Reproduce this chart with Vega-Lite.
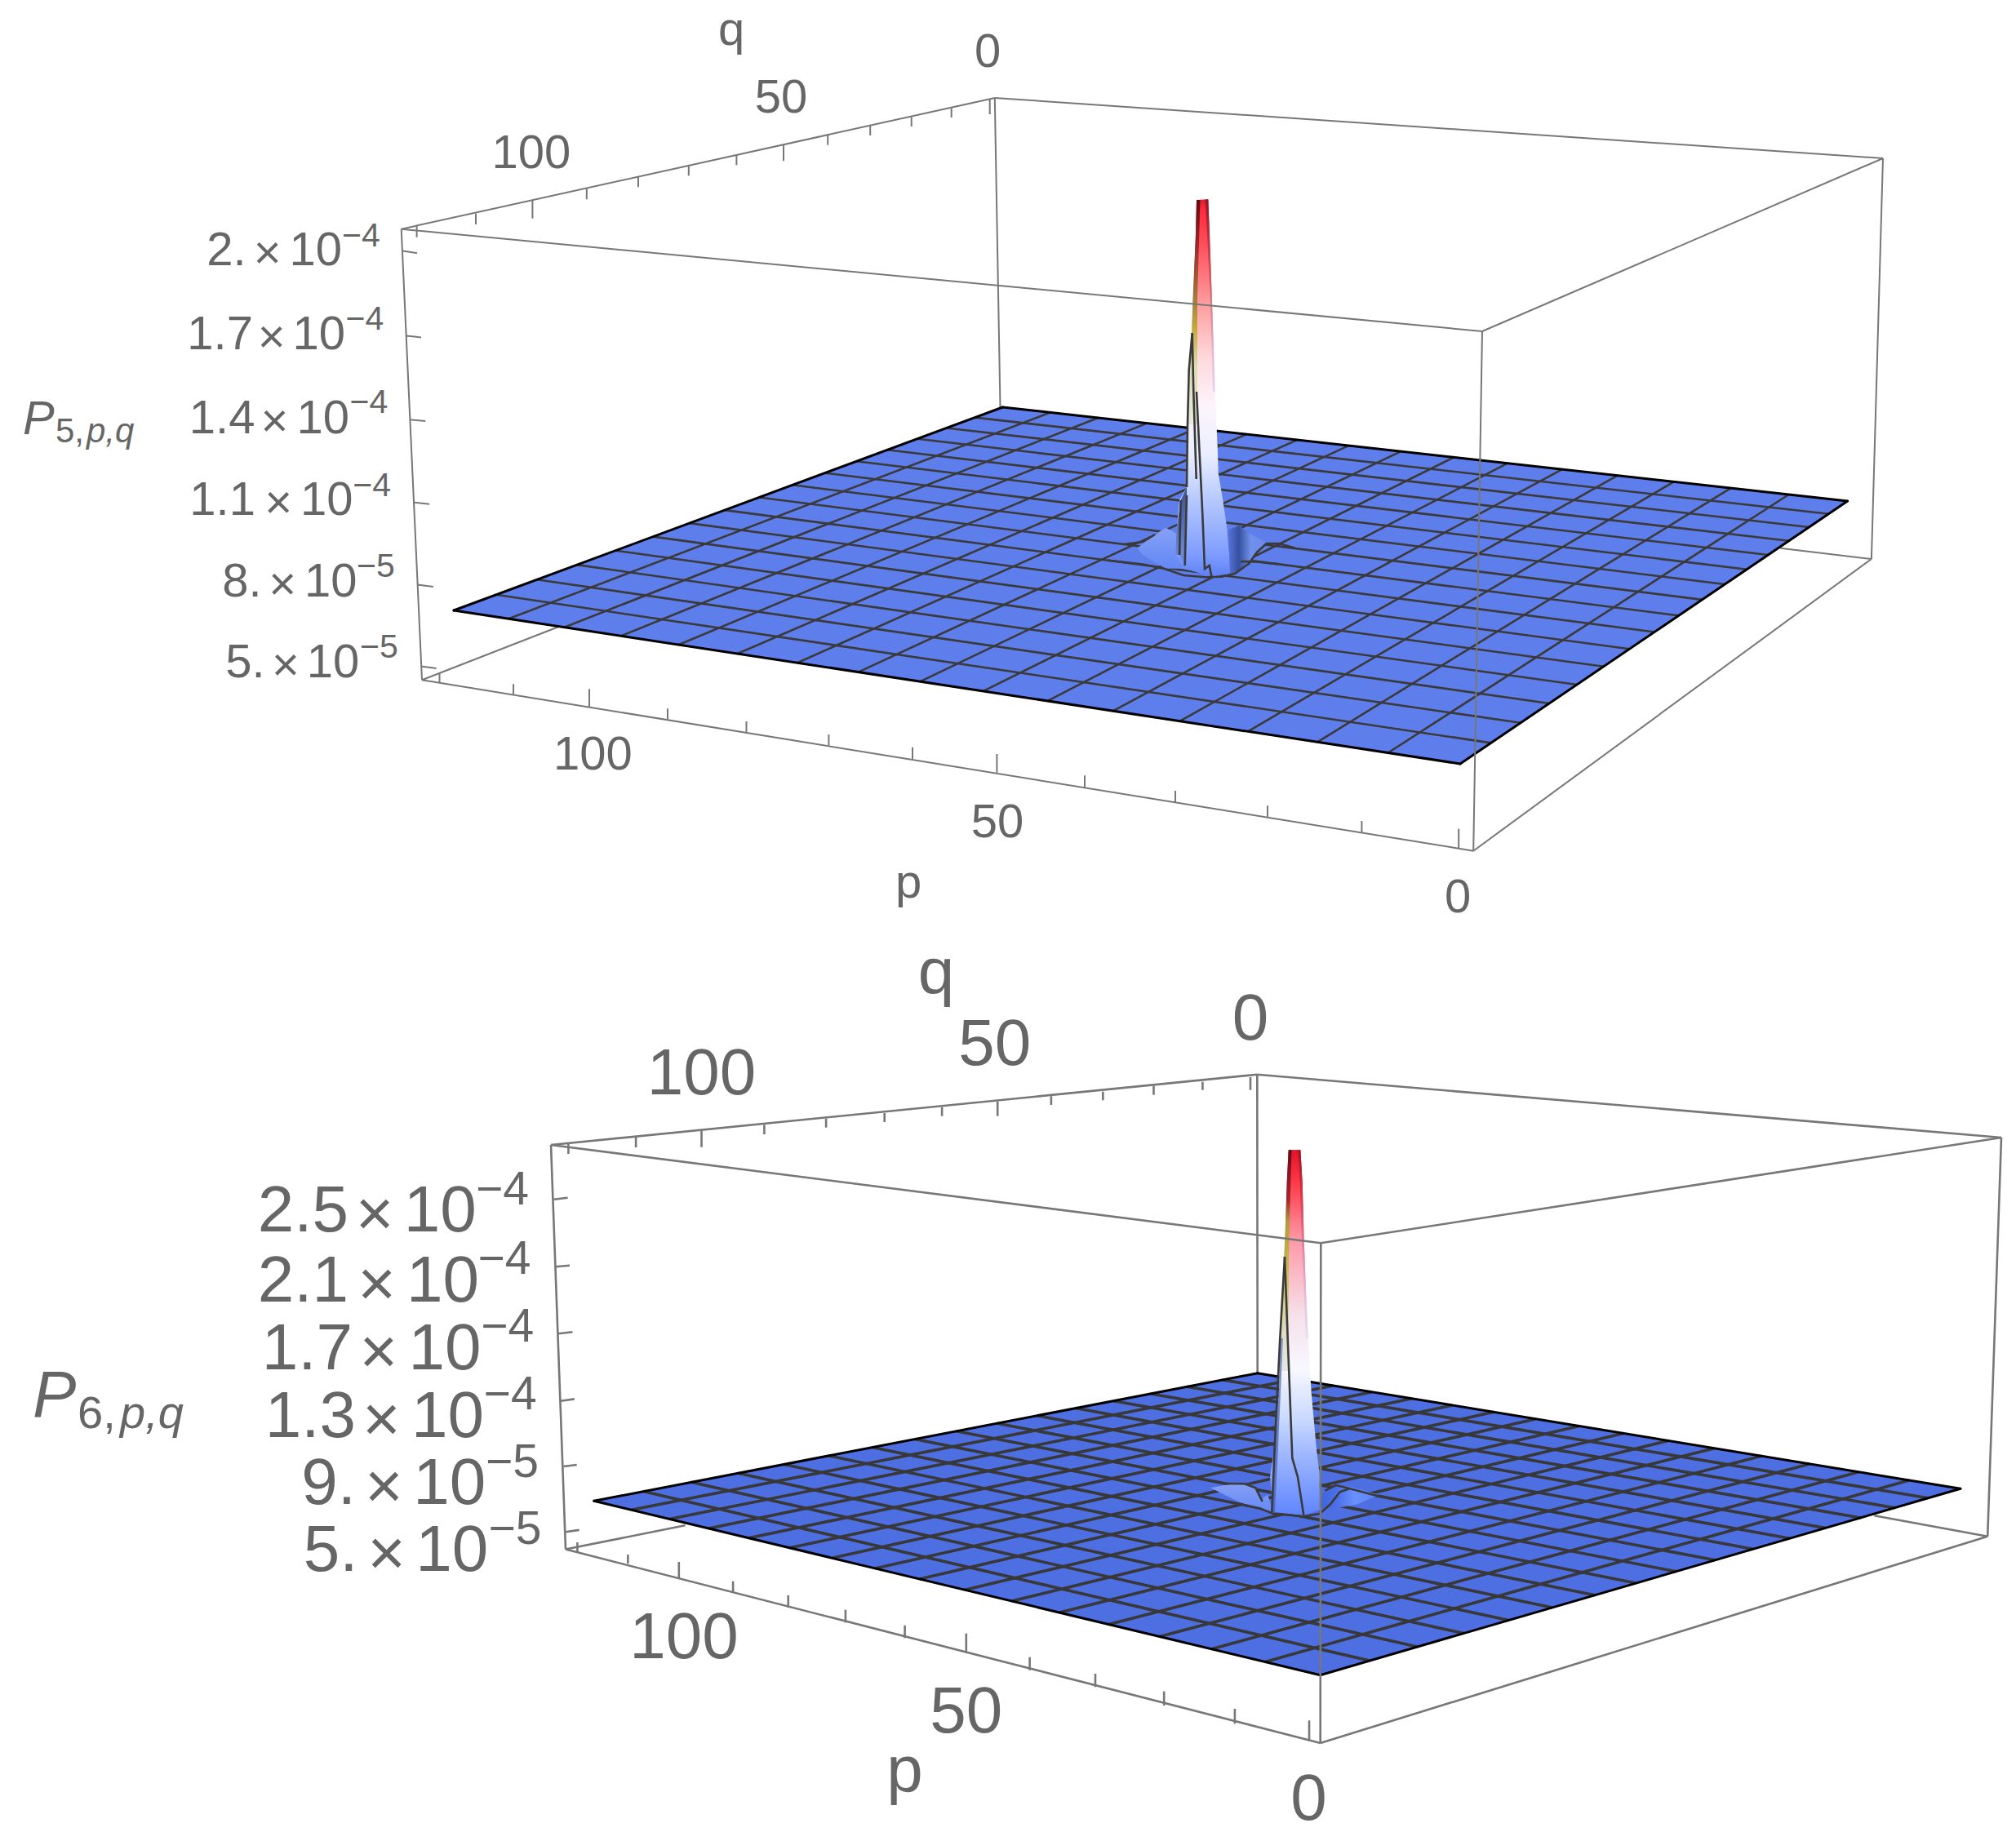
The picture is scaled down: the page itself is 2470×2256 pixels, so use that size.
{
"$schema":"https://vega.github.io/schema/vega-lite/v6.json",
"width":2470,"height":2256,"padding":0,
"autosize":{"type":"fit","contains":"padding"},
"background":"white",
"config":{"view":{"stroke":null},"text":{"font":"Liberation Sans","color":"#666666"}},
"datasets":{
"frameBack5":[{"x":517,"y":833.3,"x2":683.8,"y2":768.3},{"x":2292.9,"y":685,"x2":2181.4,"y2":671.7},{"x":1218.8,"y":120,"x2":1225.5,"y2":499}],
"frameBack6":[{"x":693,"y":1898.5,"x2":839.4,"y2":1869.3},{"x":2435.2,"y":1882.7,"x2":2296.4,"y2":1857.3},{"x":1540.3,"y":1316.7,"x2":1540.7,"y2":1682.7}],
"surface5":[{"o":0,"x":1789,"y":936},{"o":1,"x":556,"y":748},{"o":2,"x":1228.5,"y":499},{"o":3,"x":2263.6,"y":614},{"o":4,"x":1789,"y":936}],
"surface6":[{"o":0,"x":1617.6,"y":2052.7},{"o":1,"x":727.8,"y":1839.3},{"o":2,"x":1540.7,"y":1682.7},{"o":3,"x":2401.9,"y":1824.3},{"o":4,"x":1617.6,"y":2052.7}],
"grid5":[
{"x":1700.7,"y":922.5,"x2":2191.6,"y2":606.0},{"x":1614.0,"y":909.3,"x2":2120.6,"y2":598.1},{"x":1529.0,"y":896.4,"x2":2050.7,"y2":590.4},{"x":1445.7,"y":883.7,"x2":1981.9,"y2":582.7},{"x":1363.9,"y":871.2,"x2":1914.0,"y2":575.2},{"x":1283.6,"y":858.9,"x2":1847.1,"y2":567.7},{"x":1204.8,"y":846.9,"x2":1781.3,"y2":560.4},{"x":1127.5,"y":835.1,"x2":1716.3,"y2":553.2},{"x":1051.5,"y":823.6,"x2":1652.3,"y2":546.1},{"x":976.9,"y":812.2,"x2":1589.2,"y2":539.1},{"x":903.6,"y":801.0,"x2":1526.9,"y2":532.2},{"x":831.7,"y":790.0,"x2":1465.6,"y2":525.3},{"x":760.9,"y":779.3,"x2":1405.1,"y2":518.6},{"x":691.4,"y":768.7,"x2":1345.4,"y2":512.0},{"x":623.1,"y":758.2,"x2":1286.6,"y2":505.5},
{"x":1826.7,"y":910.4,"x2":607.9,"y2":728.8},{"x":1863.0,"y":885.8,"x2":658.1,"y2":710.2},{"x":1898.1,"y":862.0,"x2":706.9,"y2":692.1},{"x":1932.0,"y":839.0,"x2":754.2,"y2":674.6},{"x":1964.7,"y":816.8,"x2":800.1,"y2":657.6},{"x":1996.4,"y":795.3,"x2":844.7,"y2":641.1},{"x":2027.0,"y":774.5,"x2":888.0,"y2":625.1},{"x":2056.6,"y":754.4,"x2":930.1,"y2":609.5},{"x":2085.4,"y":734.9,"x2":971.0,"y2":594.3},{"x":2113.2,"y":716.0,"x2":1010.8,"y2":579.6},{"x":2140.2,"y":697.7,"x2":1049.5,"y2":565.3},{"x":2166.3,"y":680.0,"x2":1087.2,"y2":551.3},{"x":2191.7,"y":662.8,"x2":1123.9,"y2":537.7},{"x":2216.4,"y":646.0,"x2":1159.7,"y2":524.5},{"x":2240.3,"y":629.8,"x2":1194.5,"y2":511.6}],
"grid6":[
{"x":1550.1,"y":2036.5,"x2":2338.9,"y2":1813.9},{"x":1484.5,"y":2020.8,"x2":2277.2,"y2":1803.8},{"x":1420.7,"y":2005.5,"x2":2217.0,"y2":1793.9},{"x":1358.7,"y":1990.6,"x2":2158.1,"y2":1784.2},{"x":1298.3,"y":1976.1,"x2":2100.5,"y2":1774.7},{"x":1239.6,"y":1962.0,"x2":2044.1,"y2":1765.5},{"x":1182.3,"y":1948.3,"x2":1988.9,"y2":1756.4},{"x":1126.6,"y":1934.9,"x2":1934.9,"y2":1747.5},{"x":1072.3,"y":1921.9,"x2":1882.0,"y2":1738.8},{"x":1019.4,"y":1909.2,"x2":1830.2,"y2":1730.3},{"x":967.7,"y":1896.8,"x2":1779.5,"y2":1722.0},{"x":917.4,"y":1884.8,"x2":1729.8,"y2":1713.8},{"x":868.2,"y":1873.0,"x2":1681.1,"y2":1705.8},{"x":820.3,"y":1861.5,"x2":1633.4,"y2":1697.9},{"x":773.5,"y":1850.2,"x2":1586.6,"y2":1690.2},
{"x":1678.0,"y":2035.1,"x2":788.2,"y2":1827.6},{"x":1736.5,"y":2018.1,"x2":847.1,"y2":1816.3},{"x":1793.4,"y":2001.5,"x2":904.6,"y2":1805.3},{"x":1848.5,"y":1985.5,"x2":960.6,"y2":1794.4},{"x":1902.0,"y":1969.9,"x2":1015.4,"y2":1783.9},{"x":1953.9,"y":1954.8,"x2":1068.8,"y2":1773.6},{"x":2004.5,"y":1940.0,"x2":1120.9,"y2":1763.6},{"x":2053.5,"y":1925.8,"x2":1171.9,"y2":1753.7},{"x":2101.3,"y":1911.8,"x2":1221.7,"y2":1744.2},{"x":2147.7,"y":1898.3,"x2":1270.4,"y2":1734.8},{"x":2192.9,"y":1885.2,"x2":1317.9,"y2":1725.6},{"x":2236.9,"y":1872.4,"x2":1364.5,"y2":1716.7},{"x":2279.8,"y":1859.9,"x2":1410.0,"y2":1707.9},{"x":2321.5,"y":1847.7,"x2":1454.5,"y2":1699.3},{"x":2362.2,"y":1835.8,"x2":1498.1,"y2":1690.9}],
"outline":[
{"x":1789,"y":936,"x2":556,"y2":748},{"x":556,"y":748,"x2":1228.5,"y2":499},{"x":1228.5,"y":499,"x2":2263.6,"y2":614},{"x":2263.6,"y":614,"x2":1789,"y2":936},
{"x":1617.6,"y":2052.7,"x2":727.8,"y2":1839.3},{"x":727.8,"y":1839.3,"x2":1540.7,"y2":1682.7},{"x":1540.7,"y":1682.7,"x2":2401.9,"y2":1824.3},{"x":2401.9,"y":1824.3,"x2":1617.6,"y2":2052.7}],
"spire5":[{"o":0,"x":1466,"y":245},{"o":1,"x":1480.3,"y":244.3},{"o":2,"x":1482,"y":287},{"o":3,"x":1485,"y":370},{"o":4,"x":1487.3,"y":437},{"o":5,"x":1488.7,"y":480},{"o":6,"x":1491.7,"y":547},{"o":7,"x":1492.7,"y":580},{"o":8,"x":1498.3,"y":613},{"o":9,"x":1503.3,"y":647},{"o":10,"x":1506,"y":680},{"o":11,"x":1507,"y":703},{"o":12,"x":1483,"y":707},{"o":13,"x":1462,"y":700},{"o":14,"x":1450,"y":697},{"o":15,"x":1443,"y":683},{"o":16,"x":1440,"y":680},{"o":17,"x":1441.7,"y":647},{"o":18,"x":1445,"y":613},{"o":19,"x":1454,"y":597},{"o":20,"x":1454,"y":580},{"o":21,"x":1455,"y":547},{"o":22,"x":1456.7,"y":480},{"o":23,"x":1460,"y":410},{"o":24,"x":1461.7,"y":370},{"o":25,"x":1465,"y":287}],
"spire6":[{"o":0,"x":1578.7,"y":1409.3},{"o":1,"x":1593.3,"y":1409},{"o":2,"x":1595.7,"y":1448.3},{"o":3,"x":1597.7,"y":1520},{"o":4,"x":1600.7,"y":1596.7},{"o":5,"x":1602.7,"y":1640},{"o":6,"x":1606.7,"y":1706.7},{"o":7,"x":1612.7,"y":1773},{"o":8,"x":1616.7,"y":1806.7},{"o":9,"x":1617,"y":1850},{"o":10,"x":1597,"y":1857},{"o":11,"x":1560,"y":1853},{"o":12,"x":1556,"y":1810},{"o":13,"x":1561.7,"y":1773},{"o":14,"x":1567.3,"y":1706.7},{"o":15,"x":1568.3,"y":1640},{"o":16,"x":1569.3,"y":1613.3},{"o":17,"x":1573.3,"y":1540},{"o":18,"x":1575,"y":1513.3},{"o":19,"x":1576.7,"y":1448.3}],
"leftStrip5":[{"o":0,"x":1466,"y":245},{"o":1,"x":1470.5,"y":245},{"o":2,"x":1467,"y":365},{"o":3,"x":1461.5,"y":365},{"o":4,"x":1465,"y":287}],
"rightStrip5":[{"o":0,"x":1476.5,"y":244.5},{"o":1,"x":1480.3,"y":244.3},{"o":2,"x":1482,"y":287},{"o":3,"x":1485,"y":370},{"o":4,"x":1487.3,"y":437},{"o":5,"x":1488.7,"y":480},{"o":6,"x":1486,"y":480},{"o":7,"x":1483,"y":370},{"o":8,"x":1479,"y":287}],
"leftStrip6":[{"o":0,"x":1578.7,"y":1409.3},{"o":1,"x":1582.5,"y":1409.3},{"o":2,"x":1580,"y":1497},{"o":3,"x":1575,"y":1497},{"o":4,"x":1576.7,"y":1448.3}],
"rightStrip6":[{"o":0,"x":1590.5,"y":1409},{"o":1,"x":1593.3,"y":1409},{"o":2,"x":1595.7,"y":1448.3},{"o":3,"x":1597.7,"y":1520},{"o":4,"x":1600.7,"y":1596.7},{"o":5,"x":1602.7,"y":1640},{"o":6,"x":1600,"y":1640},{"o":7,"x":1595,"y":1520},{"o":8,"x":1592.5,"y":1448}],
"darkBase5":[{"o":0,"x":1454,"y":597},{"o":1,"x":1446.7,"y":613},{"o":2,"x":1441.7,"y":647},{"o":3,"x":1440,"y":680},{"o":4,"x":1445,"y":680},{"o":5,"x":1451.7,"y":693},{"o":6,"x":1454,"y":607}],
"darkBase6":[{"o":0,"x":1568,"y":1640},{"o":1,"x":1572,"y":1640},{"o":2,"x":1566,"y":1773},{"o":3,"x":1562,"y":1853},{"o":4,"x":1558,"y":1853},{"o":5,"x":1561.7,"y":1773},{"o":6,"x":1567,"y":1706}],
"olive5":[{"o":0,"x":1461.5,"y":365},{"o":1,"x":1467,"y":365},{"o":2,"x":1467,"y":480},{"o":3,"x":1468,"y":520},{"o":4,"x":1455.5,"y":520},{"o":5,"x":1456.7,"y":480},{"o":6,"x":1460,"y":410}],
"olive6":[{"o":0,"x":1575,"y":1497},{"o":1,"x":1580,"y":1497},{"o":2,"x":1579,"y":1540},{"o":3,"x":1579,"y":1680},{"o":4,"x":1567,"y":1680},{"o":5,"x":1569.3,"y":1613},{"o":6,"x":1573.3,"y":1540}],
"lobeL":[
{"g":"a","o":0,"x":1393.3,"y":671.7},{"g":"a","o":1,"x":1415,"y":655},{"g":"a","o":2,"x":1428.3,"y":646.7},{"g":"a","o":3,"x":1441.7,"y":653.3},{"g":"a","o":4,"x":1445.7,"y":680},{"g":"a","o":5,"x":1450,"y":696.7},{"g":"a","o":6,"x":1428.3,"y":696.7},{"g":"a","o":7,"x":1413.3,"y":688.3},{"g":"a","o":8,"x":1400,"y":680},
{"g":"b","o":0,"x":1483.3,"y":1823.3},{"g":"b","o":1,"x":1500,"y":1820},{"g":"b","o":2,"x":1525,"y":1816.7},{"g":"b","o":3,"x":1536.7,"y":1821.7},{"g":"b","o":4,"x":1545,"y":1836.7},{"g":"b","o":5,"x":1553.3,"y":1831.7},{"g":"b","o":6,"x":1560,"y":1853},{"g":"b","o":7,"x":1540,"y":1848},{"g":"b","o":8,"x":1516.7,"y":1840}],
"lobeR5":[{"o":0,"x":1503.3,"y":650},{"o":1,"x":1518.3,"y":644},{"o":2,"x":1533.3,"y":655},{"o":3,"x":1551.7,"y":665},{"o":4,"x":1540,"y":676.7},{"o":5,"x":1530,"y":691.7},{"o":6,"x":1513.3,"y":703.3},{"o":7,"x":1505,"y":704}],
"lobeR6":[{"o":0,"x":1620,"y":1830},{"o":1,"x":1636.7,"y":1820},{"o":2,"x":1653.3,"y":1821.7},{"o":3,"x":1690,"y":1831.7},{"o":4,"x":1663.3,"y":1843.3},{"o":5,"x":1636.7,"y":1848.3},{"o":6,"x":1620,"y":1848.3},{"o":7,"x":1615,"y":1853}],
"wavy":[
{"g":"a","o":0,"x":1356.7,"y":686.6},{"g":"a","o":1,"x":1400,"y":691.5},{"g":"a","o":2,"x":1426.7,"y":697},{"g":"a","o":3,"x":1450,"y":705},{"g":"a","o":4,"x":1476.7,"y":707.3},{"g":"a","o":5,"x":1496.7,"y":706.7},{"g":"a","o":6,"x":1513.3,"y":702.7},{"g":"a","o":7,"x":1530,"y":690.7},{"g":"a","o":8,"x":1540,"y":676.7},{"g":"a","o":9,"x":1551.7,"y":666},{"g":"a","o":10,"x":1566.7,"y":666},{"g":"a","o":11,"x":1586.7,"y":671.5},
{"g":"b","o":0,"x":1376.7,"y":667},{"g":"b","o":1,"x":1400,"y":664},{"g":"b","o":2,"x":1415,"y":655},
{"g":"c","o":0,"x":1520,"y":688},{"g":"c","o":1,"x":1540,"y":688.5},{"g":"c","o":2,"x":1566.7,"y":691.4},
{"g":"d","o":0,"x":1466,"y":480},{"g":"d","o":1,"x":1473.3,"y":630},{"g":"d","o":2,"x":1476,"y":697},{"g":"d","o":3,"x":1481.7,"y":693},{"g":"d","o":4,"x":1484.3,"y":706},
{"g":"e","o":0,"x":1460.7,"y":408},{"g":"e","o":1,"x":1456.7,"y":453},{"g":"e","o":2,"x":1455,"y":520},{"g":"e","o":3,"x":1454.7,"y":547},{"g":"e","o":4,"x":1454,"y":597},
{"g":"f","o":0,"x":1460.7,"y":408},{"g":"f","o":1,"x":1462.3,"y":480},{"g":"f","o":2,"x":1465.7,"y":587},
{"g":"h","o":0,"x":1454,"y":607},{"g":"h","o":1,"x":1451.7,"y":693},
{"g":"i","o":0,"x":1446.7,"y":613},{"g":"i","o":1,"x":1445,"y":680},
{"g":"j","o":0,"x":1493.3,"y":1838},{"g":"j","o":1,"x":1521.7,"y":1843.7},{"g":"j","o":2,"x":1543.3,"y":1848.3},{"g":"j","o":3,"x":1560,"y":1855},{"g":"j","o":4,"x":1596.7,"y":1858.3},{"g":"j","o":5,"x":1616.7,"y":1855},{"g":"j","o":6,"x":1630,"y":1843.3},{"g":"j","o":7,"x":1641.7,"y":1828.3},{"g":"j","o":8,"x":1653.3,"y":1824},{"g":"j","o":9,"x":1683.3,"y":1832},{"g":"j","o":10,"x":1716.7,"y":1838.5},
{"g":"k","o":0,"x":1623.3,"y":1826.7},{"g":"k","o":1,"x":1636.7,"y":1820},{"g":"k","o":2,"x":1653.3,"y":1824},
{"g":"l","o":0,"x":1500,"y":1818},{"g":"l","o":1,"x":1525,"y":1818.3},{"g":"l","o":2,"x":1538.3,"y":1823.3},{"g":"l","o":3,"x":1546.7,"y":1840},
{"g":"m","o":0,"x":1574,"y":1540},{"g":"m","o":1,"x":1568.3,"y":1640},{"g":"m","o":2,"x":1561.7,"y":1773.3},{"g":"m","o":3,"x":1558.3,"y":1853.3},
{"g":"n","o":0,"x":1574,"y":1540},{"g":"n","o":1,"x":1577.7,"y":1640},{"g":"n","o":2,"x":1583.3,"y":1786.7},{"g":"n","o":3,"x":1590,"y":1810},{"g":"n","o":4,"x":1597.3,"y":1856.7}],
"frameFront5":[
{"x":491.7,"y":280.7,"x2":1218.8,"y2":120},{"x":1218.8,"y":120,"x2":2307,"y2":194},{"x":2307,"y":194,"x2":1816,"y2":406},{"x":1816,"y":406,"x2":491.7,"y2":280.7},{"x":491.7,"y":280.7,"x2":517,"y2":833.3},{"x":2307,"y":194,"x2":2292.9,"y2":685},{"x":1816,"y":406,"x2":1805.2,"y2":1042.7},{"x":517,"y":833.3,"x2":1805.2,"y2":1042.7},{"x":1805.2,"y":1042.7,"x2":2292.9,"y2":685},
{"x":510.6,"y":276.7,"x2":510.6,"y2":290.7},{"x":583,"y":261.7,"x2":583,"y2":275},{"x":652.4,"y":246,"x2":652.4,"y2":267.7},{"x":718.8,"y":230.7,"x2":718.8,"y2":244.3},{"x":782,"y":216.7,"x2":782,"y2":229.3},{"x":843.8,"y":202.7,"x2":843.8,"y2":215.3},{"x":902.4,"y":190,"x2":902.4,"y2":202.3},{"x":960,"y":177.7,"x2":960,"y2":197.3},{"x":1014.2,"y":165.7,"x2":1014.2,"y2":177.7},{"x":1066.2,"y":154,"x2":1066.2,"y2":166},{"x":1116.7,"y":143.3,"x2":1116.7,"y2":155},{"x":1165.7,"y":132.3,"x2":1165.7,"y2":144},{"x":1212.7,"y":121.7,"x2":1212.7,"y2":140},
{"x":493.7,"y":307.4,"x2":511,"y2":310.2},{"x":497.5,"y":411.4,"x2":515.9,"y2":413.4},{"x":502.5,"y":514.2,"x2":521.2,"y2":516.1},{"x":507,"y":615.7,"x2":526.2,"y2":617.7},{"x":511.7,"y":716.5,"x2":530.8,"y2":718.9},{"x":515.9,"y":816.5,"x2":534.6,"y2":818.9},
{"x":538.5,"y":825,"x2":538.5,"y2":836.8},{"x":629,"y":838.3,"x2":629,"y2":851.7},{"x":722,"y":844.3,"x2":722,"y2":866},{"x":818,"y":868.3,"x2":818,"y2":881},{"x":914.5,"y":884,"x2":914.5,"y2":897.3},{"x":1015.4,"y":900,"x2":1015.4,"y2":913.3},{"x":1118,"y":915.7,"x2":1118,"y2":930},{"x":1221.4,"y":924,"x2":1221.4,"y2":946.7},{"x":1329,"y":950.3,"x2":1329,"y2":965},{"x":1440,"y":969,"x2":1440,"y2":983.3},{"x":1553,"y":987.3,"x2":1553,"y2":1002},{"x":1668.4,"y":1006,"x2":1668.4,"y2":1021},{"x":1787.2,"y":1015.7,"x2":1787.2,"y2":1040}],
"frameFront6":[
{"x":675,"y":1403,"x2":1540.3,"y2":1316.7},{"x":1540.3,"y":1316.7,"x2":2452,"y2":1394},{"x":2452,"y":1394,"x2":1618.3,"y2":1523.3},{"x":1618.3,"y":1523.3,"x2":675,"y2":1403},{"x":675,"y":1403,"x2":693,"y2":1898.5},{"x":2452,"y":1394,"x2":2435.2,"y2":1882.7},{"x":1618.3,"y":1523.3,"x2":1617.7,"y2":2136},{"x":693,"y":1898.5,"x2":1617.7,"y2":2136},{"x":1617.7,"y":2136,"x2":2435.2,"y2":1882.7},
{"x":696.4,"y":1401.7,"x2":696.4,"y2":1414},{"x":779.1,"y":1393.3,"x2":779.1,"y2":1406},{"x":859.5,"y":1385.7,"x2":859.5,"y2":1405.7},{"x":936.4,"y":1378.3,"x2":936.4,"y2":1390},{"x":1012.1,"y":1370.7,"x2":1012.1,"y2":1381.7},{"x":1083.7,"y":1364,"x2":1083.7,"y2":1375},{"x":1154.1,"y":1356.7,"x2":1154.1,"y2":1367.7},{"x":1222.2,"y":1350,"x2":1222.2,"y2":1367.7},{"x":1287.9,"y":1343.3,"x2":1287.9,"y2":1354},{"x":1351.3,"y":1337.7,"x2":1351.3,"y2":1348.3},{"x":1413.5,"y":1330.7,"x2":1413.5,"y2":1341.7},{"x":1473.4,"y":1325.7,"x2":1473.4,"y2":1335.7},{"x":1532,"y":1320,"x2":1532,"y2":1335.7},
{"x":678.6,"y":1469.7,"x2":695.6,"y2":1467.7},{"x":681,"y":1552.3,"x2":698,"y2":1550.8},{"x":684,"y":1634.2,"x2":701.4,"y2":1632.2},{"x":686.9,"y":1716.8,"x2":703.8,"y2":1714.4},{"x":690.3,"y":1797,"x2":706.7,"y2":1795},{"x":693.2,"y":1877.2,"x2":709.6,"y2":1874.9},
{"x":707.4,"y":1890,"x2":707.4,"y2":1902},{"x":769.3,"y":1905,"x2":769.3,"y2":1916},{"x":831.8,"y":1914,"x2":831.8,"y2":1934},{"x":898.1,"y":1937.7,"x2":898.1,"y2":1951.7},{"x":965.7,"y":1955,"x2":965.7,"y2":1970},{"x":1035.9,"y":1972.7,"x2":1035.9,"y2":1988.3},{"x":1108.6,"y":1991.7,"x2":1108.6,"y2":2007.3},{"x":1183.8,"y":2001.7,"x2":1183.8,"y2":2026},{"x":1261.6,"y":2030.7,"x2":1261.6,"y2":2046.7},{"x":1342,"y":2051,"x2":1342,"y2":2067.3},{"x":1426.2,"y":2072.7,"x2":1426.2,"y2":2090},{"x":1512.9,"y":2094,"x2":1512.9,"y2":2112.3},{"x":1604,"y":2108.3,"x2":1604,"y2":2133.3}],
"base5":[
{"t":"2.","x":301.6,"y":325.2},{"t":"×","x":344.6,"y":329},{"t":"10","x":419,"y":325.2},
{"t":"1.7","x":310,"y":428},{"t":"×","x":349.6,"y":432},{"t":"10","x":423,"y":428},
{"t":"1.4","x":312.5,"y":530.8},{"t":"×","x":353.4,"y":535},{"t":"10","x":428,"y":530.8},
{"t":"1.1","x":313,"y":630.8},{"t":"×","x":358,"y":635},{"t":"10","x":432.5,"y":630.8},
{"t":"8.","x":320.7,"y":731},{"t":"×","x":363,"y":735},{"t":"10","x":437.5,"y":731},
{"t":"5.","x":324.6,"y":830},{"t":"×","x":366.8,"y":834},{"t":"10","x":440.2,"y":830}],
"sup5":[{"t":"−4","x":419,"y":301.5},{"t":"−4","x":423.5,"y":404.3},{"t":"−4","x":428.5,"y":505.8},{"t":"−4","x":432.3,"y":607.8},{"t":"−5","x":437,"y":707.4},{"t":"−5","x":441,"y":805.5}],
"base6":[
{"t":"2.5","x":427,"y":1509.2},{"t":"×","x":482.5,"y":1514},{"t":"10","x":583.7,"y":1509.2},
{"t":"2.1","x":427,"y":1594.6},{"t":"×","x":485,"y":1600},{"t":"10","x":587,"y":1594.6},
{"t":"1.7","x":432,"y":1677.6},{"t":"×","x":487.3,"y":1683},{"t":"10","x":589.5,"y":1677.6},
{"t":"1.3","x":436,"y":1761.4},{"t":"×","x":490.7,"y":1766},{"t":"10","x":593,"y":1761.4},
{"t":"9.","x":436,"y":1843.2},{"t":"×","x":493.6,"y":1848},{"t":"10","x":595.3,"y":1843.2},
{"t":"5.","x":438.4,"y":1925.4},{"t":"×","x":497,"y":1930},{"t":"10","x":598.2,"y":1925.4}],
"sup6":[{"t":"−4","x":583,"y":1476},{"t":"−4","x":585.4,"y":1561},{"t":"−4","x":589.3,"y":1644},{"t":"−4","x":592.6,"y":1727},{"t":"−5","x":595,"y":1810},{"t":"−5","x":598.5,"y":1891.9}],
"tick5":[{"t":"100","x":651,"y":206},{"t":"50","x":957,"y":138.3},{"t":"0","x":1210,"y":82},{"t":"q","x":896,"y":55},{"t":"100","x":726.5,"y":943.3},{"t":"50","x":1222,"y":1025.7},{"t":"0","x":1786,"y":1118.3},{"t":"p","x":1113,"y":1100}],
"tick6":[{"t":"100","x":859.5,"y":1340.7},{"t":"50","x":1218.7,"y":1305},{"t":"0","x":1532,"y":1274},{"t":"q","x":1147,"y":1216.7},{"t":"100","x":838,"y":2031.7},{"t":"50","x":1183.8,"y":2123.3},{"t":"0","x":1603.5,"y":2230},{"t":"p","x":1108.6,"y":2195}],
"p5":[{"t":"P","x":28,"y":532}],
"p6":[{"t":"P","x":40,"y":1735.7}],
"s5":[{"t":"5,","x":68,"y":541.8}],
"si5":[{"t":"p,q","x":106,"y":541.8}],
"s6":[{"t":"6,","x":95,"y":1749.6}],
"si6":[{"t":"p,q","x":147,"y":1749.6}]
},
"encoding":{
"x":{"field":"x","type":"quantitative","scale":{"domain":[0,2470],"nice":false,"zero":false},"axis":null},
"y":{"field":"y","type":"quantitative","scale":{"domain":[2256,0],"nice":false,"zero":false},"axis":null}
},
"layer":[
{"data":{"name":"frameBack5"},"mark":{"type":"rule","stroke":"#777777","strokeWidth":2},"encoding":{"x2":{"field":"x2"},"y2":{"field":"y2"}}},
{"data":{"name":"frameBack6"},"mark":{"type":"rule","stroke":"#777777","strokeWidth":2.6},"encoding":{"x2":{"field":"x2"},"y2":{"field":"y2"}}},
{"data":{"name":"surface5"},"mark":{"type":"line","fill":"#5e7eec","strokeWidth":0},"encoding":{"order":{"field":"o"}}},
{"data":{"name":"surface6"},"mark":{"type":"line","fill":"#4d6fe2","strokeWidth":0},"encoding":{"order":{"field":"o"}}},
{"data":{"name":"grid5"},"mark":{"type":"rule","stroke":"#3a3a3a","strokeWidth":2.6},"encoding":{"x2":{"field":"x2"},"y2":{"field":"y2"}}},
{"data":{"name":"grid6"},"mark":{"type":"rule","stroke":"#383838","strokeWidth":3.6},"encoding":{"x2":{"field":"x2"},"y2":{"field":"y2"}}},
{"data":{"name":"outline"},"mark":{"type":"rule","stroke":"#000000","strokeWidth":3,"strokeCap":"round"},"encoding":{"x2":{"field":"x2"},"y2":{"field":"y2"}}},
{"data":{"name":"lobeL"},"mark":{"type":"line","strokeWidth":0,"fill":{"gradient":"linear","x1":0,"y1":0,"x2":0,"y2":1,"stops":[{"offset":0,"color":"#86a0f5"},{"offset":0.5,"color":"#7594f5"},{"offset":1,"color":"#6488f5"}]}},"encoding":{"order":{"field":"o"},"detail":{"field":"g"}}},
{"data":{"name":"lobeR5"},"mark":{"type":"line","strokeWidth":0,"fill":{"gradient":"linear","x1":0,"y1":0,"x2":1,"y2":0,"stops":[{"offset":0,"color":"#5a78e0"},{"offset":0.3,"color":"#35509f"},{"offset":0.6,"color":"#7090ea"},{"offset":1,"color":"#6a8af0"}]}},"encoding":{"order":{"field":"o"}}},
{"data":{"name":"lobeR6"},"mark":{"type":"line","strokeWidth":0,"fill":{"gradient":"linear","x1":0,"y1":0,"x2":1,"y2":0,"stops":[{"offset":0,"color":"#3f62d8"},{"offset":0.3,"color":"#4a6fe6"},{"offset":0.6,"color":"#6a90ff"},{"offset":1,"color":"#5a7eee"}]}},"encoding":{"order":{"field":"o"}}},
{"data":{"name":"spire5"},"mark":{"type":"line","strokeWidth":0,"fill":{"gradient":"linear","x1":0,"y1":0,"x2":0,"y2":1,"stops":[{"offset":0,"color":"#e01c2c"},{"offset":0.03,"color":"#ff2d3d"},{"offset":0.12,"color":"#ff4f5a"},{"offset":0.27,"color":"#ff9a9c"},{"offset":0.42,"color":"#ffd9dc"},{"offset":0.55,"color":"#fdf4fb"},{"offset":0.68,"color":"#e8eeff"},{"offset":0.81,"color":"#b0c4ff"},{"offset":0.94,"color":"#7f9dff"},{"offset":1,"color":"#5f80f5"}]}},"encoding":{"order":{"field":"o"}}},
{"data":{"name":"spire6"},"mark":{"type":"line","strokeWidth":0,"fill":{"gradient":"linear","x1":0,"y1":0,"x2":0,"y2":1,"stops":[{"offset":0,"color":"#e01228"},{"offset":0.09,"color":"#ff3a4a"},{"offset":0.25,"color":"#ff9aa8"},{"offset":0.45,"color":"#f5e0ea"},{"offset":0.6,"color":"#f8f8ff"},{"offset":0.74,"color":"#c8d8ff"},{"offset":0.83,"color":"#a0b8ff"},{"offset":1,"color":"#5f85ff"}]}},"encoding":{"order":{"field":"o"}}},
{"data":{"name":"leftStrip5"},"mark":{"type":"line","strokeWidth":0,"fill":{"gradient":"linear","x1":0,"y1":0,"x2":0,"y2":1,"stops":[{"offset":0,"color":"#5e0a12"},{"offset":0.3,"color":"#8a1a20"},{"offset":0.6,"color":"#a03a30"},{"offset":1,"color":"#a07c3c"}]}},"encoding":{"order":{"field":"o"}}},
{"data":{"name":"rightStrip5"},"mark":{"type":"line","strokeWidth":0,"fill":{"gradient":"linear","x1":0,"y1":0,"x2":0,"y2":1,"stops":[{"offset":0,"color":"#9c1424"},{"offset":0.25,"color":"#c03a48"},{"offset":0.5,"color":"#d07080"},{"offset":0.8,"color":"#e8b8d0"},{"offset":1,"color":"#e8d0f0"}]}},"encoding":{"order":{"field":"o"}}},
{"data":{"name":"leftStrip6"},"mark":{"type":"line","strokeWidth":0,"fill":{"gradient":"linear","x1":0,"y1":0,"x2":0,"y2":1,"stops":[{"offset":0,"color":"#5e0a12"},{"offset":0.3,"color":"#8a1424"},{"offset":0.7,"color":"#a02a2a"},{"offset":1,"color":"#b09a40"}]}},"encoding":{"order":{"field":"o"}}},
{"data":{"name":"rightStrip6"},"mark":{"type":"line","strokeWidth":0,"fill":{"gradient":"linear","x1":0,"y1":0,"x2":0,"y2":1,"stops":[{"offset":0,"color":"#a00f20"},{"offset":0.2,"color":"#d03040"},{"offset":0.5,"color":"#e080a0"},{"offset":0.8,"color":"#e8c0e0"},{"offset":1,"color":"#e8dcf4"}]}},"encoding":{"order":{"field":"o"}}},
{"data":{"name":"olive5"},"mark":{"type":"line","strokeWidth":0,"fill":{"gradient":"linear","x1":0,"y1":0,"x2":0,"y2":1,"stops":[{"offset":0,"color":"#a07c3c"},{"offset":0.25,"color":"#c4ac40"},{"offset":0.55,"color":"#dcdcb0"},{"offset":1,"color":"#e8e8e0"}]}},"encoding":{"order":{"field":"o"}}},
{"data":{"name":"olive6"},"mark":{"type":"line","strokeWidth":0,"fill":{"gradient":"linear","x1":0,"y1":0,"x2":0,"y2":1,"stops":[{"offset":0,"color":"#b09a40"},{"offset":0.3,"color":"#c8b850"},{"offset":0.7,"color":"#dcdcb8"},{"offset":1,"color":"#e8e8e8"}]}},"encoding":{"order":{"field":"o"}}},
{"data":{"name":"darkBase5"},"mark":{"type":"line","strokeWidth":0,"fill":{"gradient":"linear","x1":0,"y1":0,"x2":0,"y2":1,"stops":[{"offset":0,"color":"#3e5090"},{"offset":1,"color":"#7090e0"}]}},"encoding":{"order":{"field":"o"}}},
{"data":{"name":"darkBase6"},"mark":{"type":"line","strokeWidth":0,"fill":{"gradient":"linear","x1":0,"y1":0,"x2":0,"y2":1,"stops":[{"offset":0,"color":"#8a9ac8"},{"offset":1,"color":"#4a68c8"}]}},"encoding":{"order":{"field":"o"}}},
{"data":{"name":"wavy"},"mark":{"type":"line","stroke":"#3a3a3a","strokeWidth":2.6},"encoding":{"order":{"field":"o"},"detail":{"field":"g"}}},
{"data":{"name":"frameFront5"},"mark":{"type":"rule","stroke":"#777777","strokeWidth":2},"encoding":{"x2":{"field":"x2"},"y2":{"field":"y2"}}},
{"data":{"name":"frameFront6"},"mark":{"type":"rule","stroke":"#777777","strokeWidth":2.6},"encoding":{"x2":{"field":"x2"},"y2":{"field":"y2"}}},
{"data":{"name":"base5"},"mark":{"type":"text","fontSize":58,"align":"right","baseline":"alphabetic"},"encoding":{"text":{"field":"t"}}},
{"data":{"name":"sup5"},"mark":{"type":"text","fontSize":41,"align":"left","baseline":"alphabetic"},"encoding":{"text":{"field":"t"}}},
{"data":{"name":"tick5"},"mark":{"type":"text","fontSize":58,"align":"center","baseline":"alphabetic"},"encoding":{"text":{"field":"t"}}},
{"data":{"name":"p5"},"mark":{"type":"text","fontSize":58,"fontStyle":"italic","align":"left","baseline":"alphabetic"},"encoding":{"text":{"field":"t"}}},
{"data":{"name":"s5"},"mark":{"type":"text","fontSize":42,"align":"left","baseline":"alphabetic"},"encoding":{"text":{"field":"t"}}},
{"data":{"name":"si5"},"mark":{"type":"text","fontSize":42,"fontStyle":"italic","align":"left","baseline":"alphabetic"},"encoding":{"text":{"field":"t"}}},
{"data":{"name":"base6"},"mark":{"type":"text","fontSize":80,"align":"right","baseline":"alphabetic"},"encoding":{"text":{"field":"t"}}},
{"data":{"name":"sup6"},"mark":{"type":"text","fontSize":57,"align":"left","baseline":"alphabetic"},"encoding":{"text":{"field":"t"}}},
{"data":{"name":"tick6"},"mark":{"type":"text","fontSize":80,"align":"center","baseline":"alphabetic"},"encoding":{"text":{"field":"t"}}},
{"data":{"name":"p6"},"mark":{"type":"text","fontSize":80,"fontStyle":"italic","align":"left","baseline":"alphabetic"},"encoding":{"text":{"field":"t"}}},
{"data":{"name":"s6"},"mark":{"type":"text","fontSize":56,"align":"left","baseline":"alphabetic"},"encoding":{"text":{"field":"t"}}},
{"data":{"name":"si6"},"mark":{"type":"text","fontSize":56,"fontStyle":"italic","align":"left","baseline":"alphabetic"},"encoding":{"text":{"field":"t"}}}
]
}
